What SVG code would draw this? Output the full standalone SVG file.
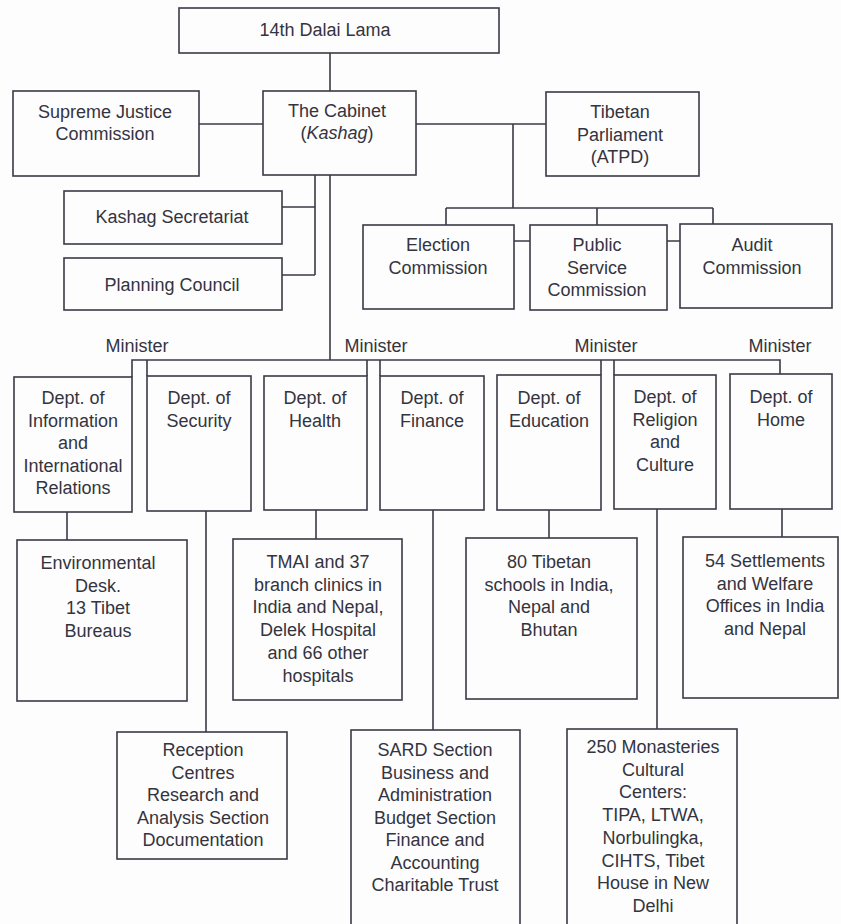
<svg xmlns="http://www.w3.org/2000/svg" width="841" height="924" viewBox="0 0 841 924">
<style>
.box{fill:none;stroke:#3a3a48;stroke-width:1.6}
.ln{fill:none;stroke:#3a3a48;stroke-width:1.6}
text{font-family:"Liberation Sans",Arial,sans-serif;font-size:18px;fill:#34343f;text-anchor:middle}
</style>
<rect width="841" height="924" fill="#fdfdfd"/>
<g id="connectors">
<path class="ln" d="M330,53 V91"/>
<path class="ln" d="M199,124 H263"/>
<path class="ln" d="M416,124 H546"/>
<path class="ln" d="M513,124 V208 M446,208 H713 M446,208 V225 M597,208 V225 M713,208 V224"/>
<path class="ln" d="M514,241 H530 M667,241 H680"/>
<path class="ln" d="M315,175 V275 M282,207 H315 M282,275 H315"/>
<path class="ln" d="M330,175 V360"/>
<path class="ln" d="M132,377 V360 H780 V374 M147,360 V376 M367,360 V376 M380,360 V376 M601,360 V375 M614,360 V375"/>
<path class="ln" d="M67,512 V540"/>
<path class="ln" d="M206,511 V732"/>
<path class="ln" d="M316,510 V539"/>
<path class="ln" d="M433,510 V730"/>
<path class="ln" d="M549,510 V538"/>
<path class="ln" d="M657,509 V729"/>
<path class="ln" d="M782,509 V537"/>
</g>
<g id="dalai-lama"><rect class="box" x="179" y="8" width="320" height="45"/><text x="325" y="36">14th Dalai Lama</text></g>
<g id="supreme-justice"><rect class="box" x="13" y="91" width="186" height="85"/><text x="105" y="118">Supreme Justice<tspan x="105" dy="22">Commission</tspan></text></g>
<g id="cabinet"><rect class="box" x="263" y="91" width="153" height="84"/><text x="337" y="117">The Cabinet<tspan x="337" dy="22">(<tspan font-style="italic">Kashag</tspan>)</tspan></text></g>
<g id="parliament"><rect class="box" x="546" y="92" width="153" height="84"/><text x="620" y="118">Tibetan<tspan x="620" dy="22.5">Parliament</tspan><tspan x="620" dy="22.5">(ATPD)</tspan></text></g>
<g id="kashag-secretariat"><rect class="box" x="64" y="191" width="218" height="53"/><text x="172" y="223">Kashag Secretariat</text></g>
<g id="planning-council"><rect class="box" x="64" y="258" width="218" height="52"/><text x="172" y="291">Planning Council</text></g>
<g id="election-commission"><rect class="box" x="363" y="225" width="151" height="84"/><text x="438" y="251">Election<tspan x="438" dy="22.5">Commission</tspan></text></g>
<g id="public-service-commission"><rect class="box" x="530" y="225" width="137" height="85"/><text x="597" y="251">Public<tspan x="597" dy="22.5">Service</tspan><tspan x="597" dy="22.5">Commission</tspan></text></g>
<g id="audit-commission"><rect class="box" x="680" y="224" width="152" height="84"/><text x="752" y="251">Audit<tspan x="752" dy="22.5">Commission</tspan></text></g>
<g id="minister-labels">
<text x="137" y="352">Minister</text>
<text x="376" y="352">Minister</text>
<text x="606" y="352">Minister</text>
<text x="780" y="352">Minister</text>
</g>
<g id="dept-info"><rect class="box" x="14" y="377" width="118" height="135"/><text x="73" y="404">Dept. of<tspan x="73" dy="22.5">Information</tspan><tspan x="73" dy="22.5">and</tspan><tspan x="73" dy="22.5">International</tspan><tspan x="73" dy="22.5">Relations</tspan></text></g>
<g id="dept-security"><rect class="box" x="147" y="376" width="104" height="135"/><text x="199" y="404">Dept. of<tspan x="199" dy="22.5">Security</tspan></text></g>
<g id="dept-health"><rect class="box" x="264" y="376" width="103" height="134"/><text x="315" y="404">Dept. of<tspan x="315" dy="22.5">Health</tspan></text></g>
<g id="dept-finance"><rect class="box" x="380" y="376" width="104" height="134"/><text x="432" y="404">Dept. of<tspan x="432" dy="22.5">Finance</tspan></text></g>
<g id="dept-education"><rect class="box" x="497" y="375" width="104" height="135"/><text x="549" y="404">Dept. of<tspan x="549" dy="22.5">Education</tspan></text></g>
<g id="dept-religion"><rect class="box" x="614" y="375" width="102" height="134"/><text x="665" y="403">Dept. of<tspan x="665" dy="22.5">Religion</tspan><tspan x="665" dy="22.5">and</tspan><tspan x="665" dy="22.5">Culture</tspan></text></g>
<g id="dept-home"><rect class="box" x="730" y="374" width="102" height="135"/><text x="781" y="403">Dept. of<tspan x="781" dy="22.5">Home</tspan></text></g>
<g id="environmental-desk"><rect class="box" x="17" y="540" width="170" height="161"/><text x="98" y="569">Environmental<tspan x="98" dy="22.5">Desk.</tspan><tspan x="98" dy="22.5">13 Tibet</tspan><tspan x="98" dy="22.5">Bureaus</tspan></text></g>
<g id="tmai"><rect class="box" x="233" y="539" width="169" height="161"/><text x="318" y="568">TMAI and 37<tspan x="318" dy="22.7">branch clinics in</tspan><tspan x="318" dy="22.7">India and Nepal,</tspan><tspan x="318" dy="22.7">Delek Hospital</tspan><tspan x="318" dy="22.7">and 66 other</tspan><tspan x="318" dy="22.7">hospitals</tspan></text></g>
<g id="tibetan-schools"><rect class="box" x="466" y="538" width="171" height="161"/><text x="549" y="568">80 Tibetan<tspan x="549" dy="22.7">schools in India,</tspan><tspan x="549" dy="22.7">Nepal and</tspan><tspan x="549" dy="22.7">Bhutan</tspan></text></g>
<g id="settlements"><rect class="box" x="683" y="537" width="155" height="161"/><text x="765" y="567">54 Settlements<tspan x="765" dy="22.7">and Welfare</tspan><tspan x="765" dy="22.7">Offices in India</tspan><tspan x="765" dy="22.7">and Nepal</tspan></text></g>
<g id="reception-centres"><rect class="box" x="117" y="732" width="170" height="127"/><text x="203" y="756">Reception<tspan x="203" dy="22.5">Centres</tspan><tspan x="203" dy="22.5">Research and</tspan><tspan x="203" dy="22.5">Analysis Section</tspan><tspan x="203" dy="22.5">Documentation</tspan></text></g>
<g id="sard-section"><rect class="box" x="351" y="730" width="169" height="230"/><text x="435" y="756">SARD Section<tspan x="435" dy="22.5">Business and</tspan><tspan x="435" dy="22.5">Administration</tspan><tspan x="435" dy="22.5">Budget Section</tspan><tspan x="435" dy="22.5">Finance and</tspan><tspan x="435" dy="22.5">Accounting</tspan><tspan x="435" dy="22.5">Charitable Trust</tspan></text></g>
<g id="monasteries"><rect class="box" x="567" y="729" width="170" height="230"/><text x="653" y="753">250 Monasteries<tspan x="653" dy="22.7">Cultural</tspan><tspan x="653" dy="22.7">Centers:</tspan><tspan x="653" dy="22.7">TIPA, LTWA,</tspan><tspan x="653" dy="22.7">Norbulingka,</tspan><tspan x="653" dy="22.7">CIHTS, Tibet</tspan><tspan x="653" dy="22.7">House in New</tspan><tspan x="653" dy="22.7">Delhi</tspan></text></g>
</svg>
